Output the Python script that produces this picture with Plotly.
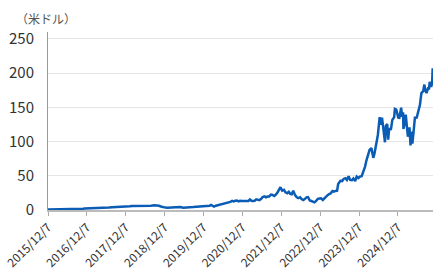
import plotly.graph_objects as go

dates = [
 "2015-12-07","2016-01-01","2016-02-01","2016-03-01","2016-04-01","2016-05-01","2016-06-01","2016-07-01","2016-08-01","2016-09-01","2016-10-01","2016-11-01","2016-11-15","2016-12-01","2016-12-15",
 "2017-01-01","2017-02-01","2017-03-01","2017-04-01","2017-05-01","2017-05-15","2017-06-01","2017-07-01","2017-08-01","2017-09-01","2017-10-01","2017-11-01","2017-12-01",
 "2018-01-01","2018-01-15","2018-02-01","2018-03-01","2018-04-01","2018-05-01","2018-06-01","2018-07-01","2018-08-01","2018-09-01","2018-10-01","2018-10-15","2018-11-01","2018-11-15","2018-12-01","2018-12-15",
 "2019-01-01","2019-02-01","2019-03-01","2019-04-01","2019-05-01","2019-06-01","2019-07-01","2019-08-01","2019-09-01","2019-10-01","2019-11-01","2019-12-01","2019-12-15",
 "2020-01-01","2020-02-01","2020-02-15","2020-03-01","2020-03-15","2020-04-01","2020-05-01","2020-05-15","2020-06-01","2020-07-01","2020-07-15","2020-08-01","2020-08-15","2020-09-01","2020-09-15","2020-10-01","2020-10-15","2020-11-01","2020-11-15","2020-12-01","2020-12-15",
 "2021-01-01","2021-01-15","2021-02-01","2021-02-15","2021-03-01","2021-03-15","2021-04-01","2021-04-15","2021-05-01","2021-05-15","2021-06-01","2021-06-15","2021-07-01","2021-07-15","2021-08-01","2021-08-15","2021-09-01","2021-09-15","2021-10-01","2021-10-15","2021-11-01","2021-11-15","2021-11-29","2021-12-15",
 "2022-01-01","2022-01-15","2022-02-01","2022-02-15","2022-03-01","2022-03-15","2022-03-29","2022-04-15","2022-05-01","2022-05-15","2022-06-01","2022-06-15","2022-07-01","2022-07-15","2022-08-01","2022-08-15","2022-09-01","2022-09-15","2022-10-01","2022-10-15","2022-11-01","2022-11-15","2022-12-01","2022-12-15",
 "2023-01-01","2023-01-15","2023-02-01","2023-02-15","2023-03-01","2023-03-15","2023-04-01","2023-04-15","2023-05-01","2023-05-15","2023-05-25","2023-06-01","2023-06-15","2023-07-01","2023-07-15","2023-08-01","2023-08-15","2023-08-31","2023-09-15","2023-10-01","2023-10-15","2023-11-01","2023-11-15","2023-12-01","2023-12-15",
 "2024-01-01","2024-01-15","2024-02-01","2024-02-15","2024-03-01","2024-03-08","2024-03-15","2024-04-01","2024-04-19","2024-05-01","2024-05-15","2024-05-24","2024-06-01","2024-06-18","2024-07-01","2024-07-10","2024-07-25","2024-08-07","2024-08-15","2024-08-28","2024-09-06","2024-09-15","2024-10-01","2024-10-15","2024-11-01","2024-11-08","2024-11-21","2024-12-01","2024-12-10","2024-12-20",
 "2025-01-06","2025-01-15","2025-01-24","2025-01-27","2025-02-05","2025-02-18","2025-02-28","2025-03-10","2025-03-25","2025-04-04","2025-04-09","2025-04-21","2025-05-01","2025-05-15","2025-06-01","2025-06-15","2025-07-01","2025-07-15","2025-08-01","2025-08-12","2025-08-20","2025-09-01","2025-09-15","2025-09-25","2025-10-01","2025-10-10","2025-10-15","2025-10-24","2025-10-29","2025-10-31",
]

prices = [
 0.82,0.82,0.72,0.80,0.90,0.90,1.15,1.18,1.45,1.58,1.72,1.80,2.25,2.30,2.55,
 2.67,2.85,2.55,2.70,2.60,3.40,3.60,3.60,4.10,4.20,4.50,5.10,4.90,
 4.90,5.60,6.00,6.00,5.70,5.60,6.30,6.00,6.25,6.90,7.00,6.20,5.20,4.40,4.10,3.50,
 3.35,3.60,3.95,4.50,4.50,3.40,4.10,4.10,4.20,4.40,5.10,5.40,5.90,
 5.90,6.20,7.40,6.70,5.00,6.30,7.30,8.60,8.80,9.50,10.40,10.60,11.80,13.40,12.50,13.50,13.90,12.60,13.50,13.30,13.30,
 13.10,13.10,13.20,15.30,13.50,13.30,13.60,15.50,15.00,14.30,16.30,18.90,20.00,18.60,19.70,19.80,22.40,22.10,20.60,22.20,25.60,29.20,33.30,28.30,
 29.40,25.80,24.50,26.50,23.60,22.90,28.00,21.70,18.50,17.50,18.70,15.90,14.50,16.00,18.40,18.90,13.90,13.10,12.10,11.20,13.50,16.30,16.90,17.00,
 14.60,16.90,20.90,21.70,23.30,24.20,27.80,26.70,27.80,28.30,37.90,39.70,42.70,42.30,45.40,46.50,43.90,49.30,43.90,43.50,46.00,42.30,48.80,46.70,48.90,
 49.50,54.70,63.00,72.60,82.30,87.50,87.80,90.40,76.20,83.00,94.60,106.50,109.60,135.60,124.30,134.90,112.30,98.90,122.90,125.60,102.80,119.10,117.00,131.60,135.40,147.60,146.70,138.60,135.00,134.70,
 149.40,136.20,142.60,118.40,124.80,139.40,124.90,107.00,120.70,94.30,114.30,96.90,111.60,134.80,135.10,142.00,153.30,170.70,173.70,183.20,175.40,170.80,177.80,177.70,187.20,183.20,179.80,186.30,207.00,202.50,
]

tick_dates = ["2015-12-07","2016-12-07","2017-12-07","2018-12-07","2019-12-07",
              "2020-12-07","2021-12-07","2022-12-07","2023-12-07","2024-12-07"]
tick_labels = ["2015/12/7","2016/12/7","2017/12/7","2018/12/7","2019/12/7",
               "2020/12/7","2021/12/7","2022/12/7","2023/12/7","2024/12/7"]
y_ticks = [0, 50, 100, 150, 200, 250]
y_title = "（米ドル）"

FONT = "Noto Sans CJK JP"

fig = go.Figure()
fig.add_trace(go.Scatter(x=dates, y=prices, mode="lines",
                         line=dict(color="#0b5cb5", width=2.5),
                         hoverinfo="skip", showlegend=False))

fig.update_layout(
    width=448, height=280,
    margin=dict(l=48, r=15, t=32, b=70),
    paper_bgcolor="white", plot_bgcolor="white",
    font=dict(family=FONT, color="#333333"),
    xaxis=dict(
        type="date", automargin=False,
        range=["2015-12-07", "2025-11-01"],
        tickmode="array", tickvals=tick_dates, ticktext=tick_labels,
        tickangle=-45, tickfont=dict(size=12, color="#333333"),
        ticks="outside", ticklen=4, tickcolor="#aaaaaa",
        showgrid=False, showline=True, linecolor="#bbbbbb", linewidth=1.5,
        zeroline=False,
    ),
    yaxis=dict(
        automargin=False,
        range=[0, 260],
        tickmode="array", tickvals=y_ticks,
        tickfont=dict(size=15, color="#333333"),
        showgrid=True, gridcolor="#e6e6e6", gridwidth=1,
        showline=True, linecolor="#999999", linewidth=1,
        zeroline=False, ticks="", ticklabelstandoff=10,
    ),
    annotations=[dict(text=y_title, xref="paper", yref="paper",
                      x=0, y=1, xshift=-34, yshift=14, xanchor="left", yanchor="middle",
                      showarrow=False, font=dict(size=12, color="#555555"))],
)

fig.write_html("out.html")
